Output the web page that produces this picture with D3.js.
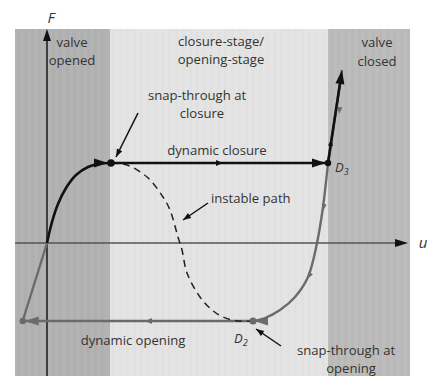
<!DOCTYPE html>
<html><head><meta charset="utf-8">
<script src="https://cdn.jsdelivr.net/npm/d3@7"></script>
<style>
html,body{margin:0;padding:0;background:#fff;}
svg{display:block;}
text{font-family:"Open Sans",sans-serif;fill:#333;}
</style></head>
<body><svg id="c" width="427" height="376"></svg>
<script>
// ---------- data ----------
const stageNames = ["valve opened", "closure-stage/opening-stage", "valve closed"];
const stageBounds = [[-3.2, 6.3], [6.3, 28.1], [28.1, 36.3]];
// loading curve (origin -> snap-through at closure)
const loadU = [0, 0.5, 1.1, 1.9, 2.9, 4.1, 5.3, 6.4];
const loadF = [0, 2.1, 3.9, 5.5, 6.8, 7.6, 7.95, 8.0];
// instable path (dashed)
const instU = [6.4, 8.0, 10.0, 11.6, 12.3, 13.1, 13.5, 14.0, 15.3, 16.5, 17.6, 19.1, 20.6];
const instF = [8.0, 7.8, 6.6, 4.6, 3.3, 0.6, -0.7, -3.0, -5.4, -6.7, -7.4, -7.8, -7.8];
// unloading branch (gray): top -> D3 -> D2
const unloadU = [29.5, 28.1, 27.6, 27.0, 26.1, 24.8, 23.3, 21.8, 20.6];
const unloadF = [17.3, 8.0, 3.6, 0.0, -3.4, -5.4, -6.7, -7.5, -7.8];
// key points
const pClose = [6.4, 8.0];
const pD3 = [28.1, 8.0];
const pTop = [29.5, 17.3];
const pD2 = [20.6, -7.8];
const pLeft = [-2.43, -7.8];

// ---------- scales ----------
const x = d3.scaleLinear().domain([-3.2, 36.3]).range([15, 410]);
const y = d3.scaleLinear().domain([21.4, -13.3]).range([29, 376]);
const svg = d3.select("#c");

// ---------- background stages ----------
const stageFill = ["#b3b3b3", "#e4e4e4", "#bcbcbc"];
const stripeFill = ["#aaaaaa", "#dddddd", "#b4b4b4"];
stageBounds.forEach((b, i) => {
  const x0 = x(b[0]), x1 = x(b[1]);
  svg.append("rect").attr("x", x0).attr("y", 29).attr("width", x1 - x0).attr("height", 347).attr("fill", stageFill[i]);
  for (let sx = x0 + 2; sx < x1 - 2; sx += 7) {
    svg.append("rect").attr("x", sx).attr("y", 29).attr("width", 3).attr("height", 347)
      .attr("fill", stripeFill[i]).attr("opacity", 0.45);
  }
});

// ---------- axes ----------
svg.append("line").attr("x1", x(-3.2)).attr("x2", x(35.4)).attr("y1", y(0)).attr("y2", y(0))
  .attr("stroke", "#555").attr("stroke-width", 1.6);
svg.append("line").attr("x1", x(0)).attr("x2", x(0)).attr("y1", y(-13.3)).attr("y2", y(20.3))
  .attr("stroke", "#222").attr("stroke-width", 1.6);

function head(px, py, ang, len, wid, col) {
  // tip at (px,py), pointing toward angle ang (radians)
  const c = Math.cos(ang), s = Math.sin(ang);
  const bx = px - c * len, by = py - s * len;
  const pts = [[px, py], [bx - s * wid / 2, by + c * wid / 2], [bx + s * wid / 2, by - c * wid / 2]];
  svg.append("path").attr("d", "M" + pts.map(p => p.join(",")).join("L") + "Z").attr("fill", col);
}
head(x(0), y(21.4), -Math.PI / 2, 12, 8, "#111");
head(x(36.1), y(0), 0, 13, 8, "#111");

// ---------- curves ----------
const line = d3.line().x(d => x(d[0])).y(d => y(d[1])).curve(d3.curveCatmullRom.alpha(0.5));
const lin = d3.line().x(d => x(d[0])).y(d => y(d[1]));
const gray = "#6b6b6b", black = "#111";

// gray: origin -> left dot
svg.append("path").attr("d", lin([[0, 0], pLeft])).attr("fill", "none").attr("stroke", gray).attr("stroke-width", 2.4);
// gray: dynamic opening
svg.append("path").attr("d", lin([pD2, pLeft])).attr("fill", "none").attr("stroke", gray).attr("stroke-width", 2.4);
// gray unloading branch
const unl = unloadU.map((u, i) => [u, unloadF[i]]);
svg.append("path").attr("d", lin(unl.slice(0, 2))).attr("fill", "none").attr("stroke", gray).attr("stroke-width", 2.4);
svg.append("path").attr("d", line(unl.slice(1))).attr("fill", "none").attr("stroke", gray).attr("stroke-width", 2.4);
// dashed instable path
svg.append("path").attr("d", line(instU.map((u, i) => [u, instF[i]]))).attr("fill", "none")
  .attr("stroke", "#222").attr("stroke-width", 1.5).attr("stroke-dasharray", "7,5");
// black loading curve
svg.append("path").attr("d", line(loadU.map((u, i) => [u, loadF[i]]))).attr("fill", "none").attr("stroke", black).attr("stroke-width", 2.6);
// black dynamic closure
svg.append("path").attr("d", lin([pClose, pD3])).attr("fill", "none").attr("stroke", black).attr("stroke-width", 2.6);
// black up from D3
svg.append("path").attr("d", lin([pD3, [pTop[0] - 0.1, pTop[1] - 0.7]])).attr("fill", "none").attr("stroke", black).attr("stroke-width", 2.6);

// arrow heads (big)
const angOf = (a, b) => Math.atan2(y(b[1]) - y(a[1]), x(b[0]) - x(a[0]));
head(x(pClose[0]) - 3, y(pClose[1]), 0, 14, 9, black);
head(x(pD3[0]) - 2, y(pD3[1]), 0, 14, 9, black);
head(x(pTop[0]), y(pTop[1]), angOf(pD3, pTop), 14, 9, black);
head(x(pLeft[0]) + 2, y(pLeft[1]), Math.PI, 14, 9, gray);
head(x(pD2[0]) + 1, y(pD2[1]), Math.PI, 14, 9, gray);
// small direction arrows
const smallU = [[17.6, 8.0, 0, black], [9.8, -7.8, Math.PI, gray]];
smallU.forEach(d => head(x(d[0]), y(d[1]), d[2], 7, 6, d[3]));
head(x(28.45), y(10.4), angOf(pD3, pTop), 7, 5, black);
head(x(29.2), y(12.9), angOf(pTop, pD3), 7, 5, gray);
head(x(27.6), y(3.2), Math.atan2(y(0) - y(3.6), x(27.0) - x(27.6)), 7, 5, gray);
head(x(26.0), y(-3.6), Math.atan2(y(-5.4) - y(-3.4), x(24.8) - x(26.1)), 7, 5, gray);

// dots
[[pClose, black, 3.8], [pD3, black, 3.2], [pD2, gray, 3.6], [pLeft, gray, 3.2]].forEach(d =>
  svg.append("circle").attr("cx", x(d[0][0])).attr("cy", y(d[0][1])).attr("r", d[2]).attr("fill", d[1]));

// ---------- annotation arrows ----------
function annot(x1, y1, x2, y2) {
  svg.append("line").attr("x1", x1).attr("y1", y1).attr("x2", x2).attr("y2", y2).attr("stroke", "#111").attr("stroke-width", 1.5);
  head(x2, y2, Math.atan2(y2 - y1, x2 - x1), 8, 6, "#111");
}
annot(138, 113, 116, 157);
annot(208, 203, 183, 220);
annot(281, 346, 256, 329);

// ---------- text ----------
const FS = 13.1;
function txt(s, tx, ty, anchor, size, italic) {
  const t = svg.append("text").attr("x", tx).attr("y", ty).attr("text-anchor", anchor || "middle")
    .attr("font-size", size || FS).text(s);
  if (italic) t.attr("font-style", "italic");
  return t;
}
txt("valve", 72, 47); txt("opened", 72, 65);
txt("closure-stage/", 221, 46); txt("opening-stage", 221, 64);
txt("valve", 377, 47); txt("closed", 377, 66);
txt("snap-through at", 197, 100); txt("closure", 202, 118);
txt("dynamic closure", 217, 155);
txt("instable path", 211, 203, "start");
txt("dynamic opening", 133, 345);
txt("snap-through at", 346, 354.5); txt("opening", 351, 372.5);
txt("F", 51, 23, "middle", 15, true);
txt("u", 423, 248, "middle", 15, true);
const d3t = txt("D", 335, 172, "start", 13, true); d3t.append("tspan").attr("font-size", 9).attr("dy", 3).text("3");
const d2t = txt("D", 234, 343, "start", 13, true); d2t.append("tspan").attr("font-size", 9).attr("dy", 3).text("2");
</script></body></html>
